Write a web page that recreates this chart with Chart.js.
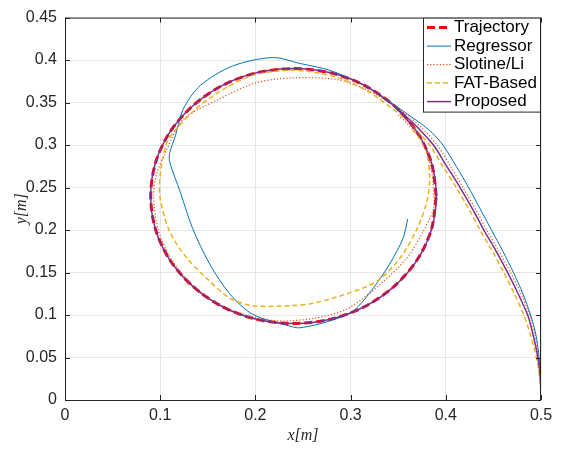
<!DOCTYPE html>
<html>
<head>
<meta charset="utf-8">
<script src="https://cdn.jsdelivr.net/npm/chart.js@4.4.1/dist/chart.umd.min.js"></script>
<style>
  html, body { margin: 0; padding: 0; background: #fff; }
  #wrap { width: 573px; height: 449px; }
</style>
</head>
<body>
<div id="wrap"><canvas id="xy-chart"></canvas></div>
<script>
// tick labels
const xTickLabels = ["0", "0.1", "0.2", "0.3", "0.4", "0.5"];
const yTickLabels = ["0", "0.05", "0.1", "0.15", "0.2", "0.25", "0.3", "0.35", "0.4", "0.45"];

const seriesNames = ["Trajectory", "Regressor", "Slotine/Li", "FAT-Based", "Proposed"];

// reference circle
const trajX = [0.390, 0.385, 0.370, 0.346, 0.315, 0.279, 0.240, 0.201, 0.165, 0.134, 0.110, 0.095, 0.090,
               0.095, 0.110, 0.134, 0.165, 0.201, 0.240, 0.279, 0.315, 0.346, 0.370, 0.385, 0.390];
const trajY = [0.240, 0.279, 0.315, 0.346, 0.370, 0.385, 0.390, 0.385, 0.370, 0.346, 0.315, 0.279, 0.240,
               0.201, 0.165, 0.134, 0.110, 0.095, 0.090, 0.095, 0.110, 0.134, 0.165, 0.201, 0.240];

const regX = [0.500, 0.4998, 0.4988, 0.497, 0.494, 0.489, 0.481, 0.471, 0.460, 0.448, 0.436, 0.424, 0.411,
              0.397, 0.386, 0.373, 0.359, 0.345, 0.330, 0.310, 0.278, 0.247, 0.218,
              0.176, 0.142, 0.124, 0.116, 0.110, 0.110, 0.121, 0.134, 0.152, 0.173, 0.197, 0.236, 0.247,
              0.278, 0.303, 0.324, 0.341, 0.355, 0.360];
const regY = [0.000, 0.020, 0.040, 0.060, 0.080, 0.100, 0.125, 0.150, 0.175, 0.200, 0.225, 0.250, 0.275,
              0.300, 0.314, 0.326, 0.337, 0.348, 0.360, 0.373, 0.388, 0.396, 0.403,
              0.393, 0.370, 0.342, 0.311, 0.291, 0.280, 0.245, 0.202, 0.160, 0.125, 0.101, 0.087, 0.085,
              0.093, 0.105, 0.132, 0.160, 0.190, 0.213];

const sloX = [0.500, 0.4997, 0.4985, 0.496, 0.493, 0.488, 0.479, 0.468, 0.456, 0.443, 0.431, 0.418, 0.405,
              0.391, 0.375, 0.360, 0.348, 0.317, 0.286, 0.236, 0.200, 0.160,
              0.124, 0.107, 0.096, 0.093, 0.098, 0.112, 0.135, 0.166, 0.200, 0.226, 0.261, 0.296, 0.331,
              0.359, 0.376, 0.387, 0.387, 0.385, 0.376, 0.359, 0.350];
const sloY = [0.000, 0.020, 0.040, 0.060, 0.080, 0.100, 0.125, 0.150, 0.175, 0.200, 0.225, 0.250, 0.275,
              0.300, 0.320, 0.335, 0.345, 0.365, 0.377, 0.379, 0.373, 0.353,
              0.330, 0.295, 0.265, 0.240, 0.200, 0.165, 0.134, 0.110, 0.097, 0.093, 0.096, 0.107, 0.136,
              0.167, 0.198, 0.225, 0.248, 0.270, 0.303, 0.326, 0.335];

const fatX = [0.500, 0.4993, 0.497, 0.493, 0.488, 0.482, 0.472, 0.461, 0.449, 0.436, 0.424, 0.411, 0.397,
              0.383, 0.367, 0.353, 0.340, 0.320, 0.290, 0.260, 0.236, 0.200,
              0.170, 0.140, 0.118, 0.107, 0.100, 0.100, 0.110, 0.128, 0.149, 0.173, 0.197, 0.236, 0.261,
              0.296, 0.328, 0.352, 0.370, 0.380, 0.383, 0.380, 0.373, 0.365];
const fatY = [0.000, 0.020, 0.040, 0.060, 0.080, 0.100, 0.125, 0.150, 0.175, 0.200, 0.225, 0.250, 0.275,
              0.300, 0.320, 0.335, 0.346, 0.362, 0.378, 0.386, 0.388, 0.383,
              0.368, 0.345, 0.320, 0.303, 0.265, 0.237, 0.198, 0.167, 0.143, 0.120, 0.111, 0.111, 0.114,
              0.125, 0.140, 0.167, 0.202, 0.233, 0.260, 0.291, 0.307, 0.318];

const propX = [0.500, 0.4995, 0.498, 0.495, 0.491, 0.486, 0.476, 0.465, 0.453, 0.440, 0.428, 0.415, 0.401,
               0.387, 0.371, 0.357, 0.346, 0.315, 0.279, 0.240, 0.201,
               0.165, 0.134, 0.110, 0.095, 0.090, 0.095, 0.110, 0.134, 0.165, 0.201, 0.240, 0.279, 0.315,
               0.346, 0.370, 0.385, 0.390, 0.385, 0.370, 0.346];
const propY = [0.000, 0.020, 0.040, 0.060, 0.080, 0.100, 0.125, 0.150, 0.175, 0.200, 0.225, 0.250, 0.275,
               0.300, 0.320, 0.335, 0.346, 0.370, 0.385, 0.390, 0.385,
               0.370, 0.346, 0.315, 0.279, 0.240, 0.201, 0.165, 0.134, 0.110, 0.095, 0.090, 0.095, 0.110,
               0.134, 0.165, 0.201, 0.240, 0.279, 0.315, 0.346];

function toPoints(xs, ys){
    return xs.map((x, i) => ({x: x, y: ys[i]}));
}

const styles = [
    {color: "#ff0000", width: 3, dash: [8, 4]},
    {color: "#0072bd", width: 1, dash: []},
    {color: "#d95319", width: 1.2, dash: [1.2, 2]},
    {color: "#edb120", width: 1.5, dash: [5, 3]},
    {color: "#7e2f8e", width: 1.5, dash: []}
];
const allX = [trajX, regX, sloX, fatX, propX];
const allY = [trajY, regY, sloY, fatY, propY];

const datasets = seriesNames.map((name, i) => ({
    label: name,
    data: toPoints(allX[i], allY[i]),
    borderColor: styles[i].color,
    borderWidth: styles[i].width,
    borderDash: styles[i].dash,
    showLine: true,
    pointRadius: 0,
    tension: 0.3,
    fill: false,
    order: -i
}));

const boxColor = "#262626";

// box, inward ticks and the legend, MATLAB style
const matlabFrame = {
    id: "matlabFrame",
    afterDatasetsDraw(chart){
        const {ctx, chartArea: a, scales} = chart;
        ctx.save();
        ctx.strokeStyle = boxColor;
        ctx.lineWidth = 1;
        ctx.setLineDash([]);
        ctx.strokeRect(a.left + 0.5, a.top + 0.5, a.right - a.left - 1, a.bottom - a.top);
        ctx.beginPath();
        xTickLabels.forEach((t, i) => {
            const px = Math.round(scales.x.getPixelForValue(i * 0.1)) + 0.5;
            ctx.moveTo(px, a.bottom); ctx.lineTo(px, a.bottom - 5);
            ctx.moveTo(px, a.top); ctx.lineTo(px, a.top + 5);
        });
        yTickLabels.forEach((t, i) => {
            const py = Math.round(scales.y.getPixelForValue(i * 0.05)) + 0.5;
            ctx.moveTo(a.left, py); ctx.lineTo(a.left + 5, py);
            ctx.moveTo(a.right, py); ctx.lineTo(a.right - 5, py);
        });
        ctx.stroke();

        // legend
        const w = 118, h = 94;
        const lx = a.right - w, ly = a.top;
        ctx.fillStyle = "#fff";
        ctx.fillRect(lx, ly, w, h);
        ctx.strokeStyle = boxColor;
        ctx.strokeRect(lx + 0.5, ly + 0.5, w - 1, h);
        ctx.font = "17px 'Liberation Sans', Arial, sans-serif";
        ctx.textBaseline = "middle";
        ctx.fillStyle = "#000";
        seriesNames.forEach((name, i) => {
            const y = ly + 10 + i * 18.5;
            ctx.beginPath();
            ctx.strokeStyle = styles[i].color;
            ctx.lineWidth = styles[i].width;
            ctx.setLineDash(styles[i].dash);
            ctx.moveTo(lx + 4, y); ctx.lineTo(lx + 28, y);
            ctx.stroke();
            ctx.fillText(name, lx + 31, y);
        });
        ctx.restore();
    }
};

new Chart(document.getElementById("xy-chart"), {
    type: "scatter",
    data: {datasets: datasets},
    plugins: [matlabFrame],
    options: {
        responsive: true,
        maintainAspectRatio: false,
        animation: false,
        layout: {padding: {left: 0, right: 32, top: 14, bottom: 0}},
        plugins: {
            legend: {display: false},
            tooltip: {enabled: false}
        },
        scales: {
            x: {
                type: "linear",
                min: 0,
                max: 0.5,
                afterFit(scale){ scale.height = 49; },
                afterBuildTicks(scale){
                    scale.ticks = xTickLabels.map((t, i) => ({value: i * 0.1}));
                },
                ticks: {
                    color: "#262626",
                    padding: 6,
                    font: {family: "'Liberation Sans', Arial, sans-serif", size: 16},
                    callback: (v, i) => xTickLabels[i]
                },
                grid: {color: "#e6e6e6", drawTicks: false},
                border: {display: false},
                title: {
                    display: true,
                    text: "x[m]",
                    color: "#262626",
                    padding: {top: 4},
                    font: {family: "'Liberation Serif', serif", size: 16, style: "italic"}
                }
            },
            y: {
                type: "linear",
                min: 0,
                max: 0.45,
                afterFit(scale){ scale.width = 65; },
                afterBuildTicks(scale){
                    scale.ticks = yTickLabels.map((t, i) => ({value: i * 0.05}));
                },
                ticks: {
                    color: "#262626",
                    padding: 8,
                    font: {family: "'Liberation Sans', Arial, sans-serif", size: 16},
                    callback: (v, i) => yTickLabels[i]
                },
                grid: {color: "#e6e6e6", drawTicks: false},
                border: {display: false},
                title: {
                    display: true,
                    text: "y[m]",
                    color: "#262626",
                    padding: {top: 12, bottom: 0},
                    font: {family: "'Liberation Serif', serif", size: 16, style: "italic"}
                }
            }
        }
    }
});
</script>
</body>
</html>
